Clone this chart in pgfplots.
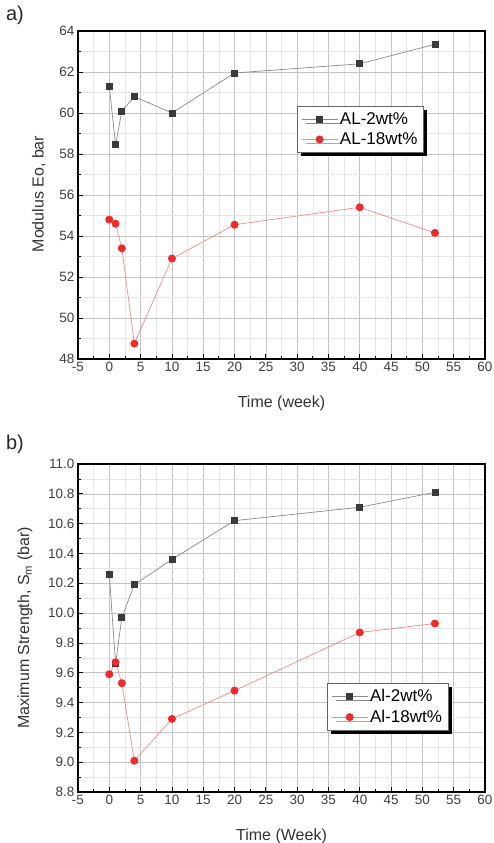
\documentclass[border=0pt]{standalone}
\usepackage{pgfplots}
\pgfplotsset{compat=1.18}
\usepackage{fontspec}
\setmainfont{Liberation Sans}
\usetikzlibrary{shadows}
\definecolor{sqfill}{HTML}{3A3A3A}
\definecolor{sqline}{HTML}{8A8A8A}
\definecolor{rdfill}{HTML}{F02A2A}
\definecolor{rdline}{HTML}{F08C8C}
\definecolor{majgrid}{HTML}{C4C4C4}
\definecolor{mingrid}{HTML}{E6E6E6}
\pgfplotsset{
  common/.style={
    scale only axis, width=407pt, height=328pt,
    xmin=-5, xmax=60, xtick distance=5,
    minor x tick num=1, minor y tick num=1,
    grid=both,
    major grid style={majgrid, line width=0.6pt},
    minor grid style={mingrid, line width=0.5pt},
    axis line style={black, line width=1.1pt},
    tick align=inside, tick pos=left,
    major tick length=5pt, minor tick length=3pt,
    tick style={black, line width=0.8pt},
    /pgf/number format/assume math mode=true,
    ticklabel style={font=\fontsize{13.5}{15}\selectfont, text=black!75},
    label style={font=\fontsize{16}{18}\selectfont, text=black!80},
    clip=false,
    legend cell align=left,
    legend style={draw=black!60, line width=0.6pt, fill=white,
      font=\fontsize{17}{19}\selectfont,
      inner xsep=4pt, inner ysep=4pt, row sep=3pt,
      drop shadow={shadow xshift=4pt, shadow yshift=-4pt, fill=black, opacity=1}},
    legend image code/.code={
      \draw[mark repeat=2,mark phase=2] plot coordinates {(0pt,0pt) (18pt,0pt) (36pt,0pt)};},
    xlabel style={at={(rel axis cs:0.5,0)}, anchor=center, yshift=-44pt},
  },
  s1/.style={sqline, line width=0.7pt, mark=square*, mark size=3pt,
    mark options={fill=sqfill, draw=sqfill}},
  s2/.style={rdline, line width=0.7pt, mark=*, mark size=3.6pt,
    mark options={fill=rdfill, draw=rdfill}},
}
\begin{document}
\begin{tikzpicture}[x=1pt,y=1pt]
\path[use as bounding box] (0,0) rectangle (494,843);
\begin{axis}[common, at={(78pt,484pt)}, anchor=south west,
  ymin=48, ymax=64, ytick distance=2,
  xlabel={Time (week)},
  ylabel={Modulus Eo, bar},
  ylabel style={at={(rel axis cs:-0.096,0.503)}, anchor=center, rotate=0},
  legend style={at={(rel axis cs:0.538,0.771)}, anchor=north west},
]
\addplot[s1] coordinates {(0,61.3) (1,58.45) (2,60.1) (4,60.8) (10,60.0) (20,61.95) (40,62.4) (52,63.35)};
\addlegendentry{AL-2wt\%}
\addplot[s2] coordinates {(0,54.8) (1,54.6) (2,53.4) (4,48.75) (10,52.9) (20,54.55) (40,55.4) (52,54.15)};
\addlegendentry{AL-18wt\%}
\node[font=\fontsize{20}{22}\selectfont, text=black!85] at (rel axis cs:-0.155,1.049) {a)};
\end{axis}
\begin{axis}[common, at={(78pt,51pt)}, anchor=south west,
  ymin=8.8, ymax=11.0, ytick distance=0.2,
  yticklabel style={/pgf/number format/.cd, fixed, fixed zerofill, precision=1},
  xlabel={Time (Week)},
  ylabel={Maximum Strength, S\textsubscript{m} (bar)},
  ylabel style={at={(rel axis cs:-0.13,0.5)}, anchor=center, rotate=0},
  legend style={at={(rel axis cs:0.612,0.332)}, anchor=north west},
]
\addplot[s1] coordinates {(0,10.26) (1,9.66) (2,9.97) (4,10.19) (10,10.36) (20,10.62) (40,10.71) (52,10.81)};
\addlegendentry{Al-2wt\%}
\addplot[s2] coordinates {(0,9.59) (1,9.67) (2,9.53) (4,9.01) (10,9.29) (20,9.48) (40,9.87) (52,9.93)};
\addlegendentry{Al-18wt\%}
\node[font=\fontsize{20}{22}\selectfont, text=black!85] at (rel axis cs:-0.155,1.061) {b)};
\end{axis}
\end{tikzpicture}
\end{document}
